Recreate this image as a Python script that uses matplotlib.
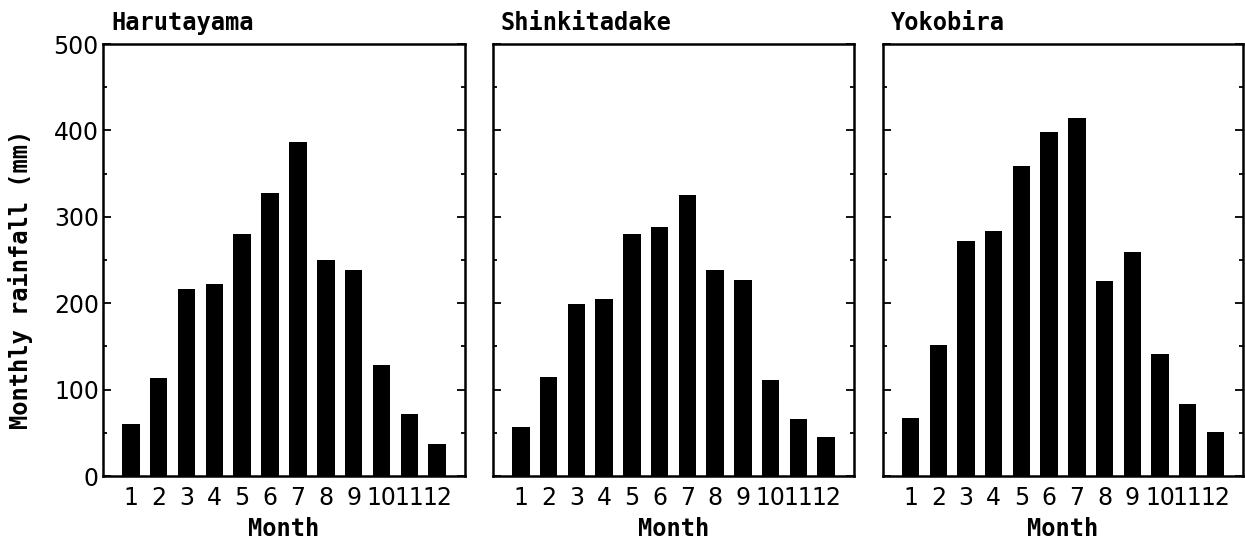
import matplotlib
matplotlib.use("Agg")
import matplotlib.pyplot as plt
from matplotlib.ticker import MultipleLocator

months = list(range(1, 13))
month_labels = [str(m) for m in months]
sites = ["Harutayama", "Shinkitadake", "Yokobira"]
harutayama = [60, 114, 216, 222, 280, 328, 387, 250, 239, 128, 72, 37]
shinkitadake = [57, 115, 199, 205, 280, 288, 325, 239, 227, 111, 66, 45]
yokobira = [67, 152, 272, 284, 359, 398, 414, 226, 259, 141, 83, 51]
series = [harutayama, shinkitadake, yokobira]

plt.rcParams['font.family'] = ['DejaVu Sans']
mono = ['DejaVu Sans Mono']

fig = plt.figure(figsize=(12.45, 5.43), dpi=100)
lefts = [103, 493, 883]
rights = [465, 854, 1243]
W, H = 1245, 543
bottom, top = 476, 44

for i, (name, vals) in enumerate(zip(sites, series)):
    ax = fig.add_axes([lefts[i] / W, 1 - bottom / H, (rights[i] - lefts[i]) / W, (bottom - top) / H])
    ax.bar(months, vals, width=0.63, color='black')
    ax.set_xlim(0, 13)
    ax.set_ylim(0, 500)
    ax.set_xticks(months)
    ax.set_xticklabels(month_labels)
    ax.yaxis.set_major_locator(MultipleLocator(100))
    ax.yaxis.set_minor_locator(MultipleLocator(50))
    ax.tick_params(axis='x', length=0, labelsize=17, pad=7)
    ax.tick_params(axis='y', which='both', direction='in', left=True, right=True,
                   width=1.3, labelsize=17, pad=3)
    ax.tick_params(axis='y', which='major', length=6)
    ax.tick_params(axis='y', which='minor', length=3)
    if i > 0:
        ax.tick_params(axis='y', labelleft=False)
    for s in ax.spines.values():
        s.set_linewidth(1.8)
    ax.set_xlabel("Month", family=mono, fontweight='bold', fontsize=17, labelpad=5)
    ax.text(0.022, 1.032, name, transform=ax.transAxes, family=mono, fontweight='bold',
            fontsize=17, ha='left', va='baseline')
    if i == 0:
        ax.set_ylabel("Monthly rainfall (mm)", family=mono, fontweight='bold', fontsize=17)
        ax.yaxis.set_label_coords(-0.193, 0.454)

fig.savefig("out.png", dpi=100)
